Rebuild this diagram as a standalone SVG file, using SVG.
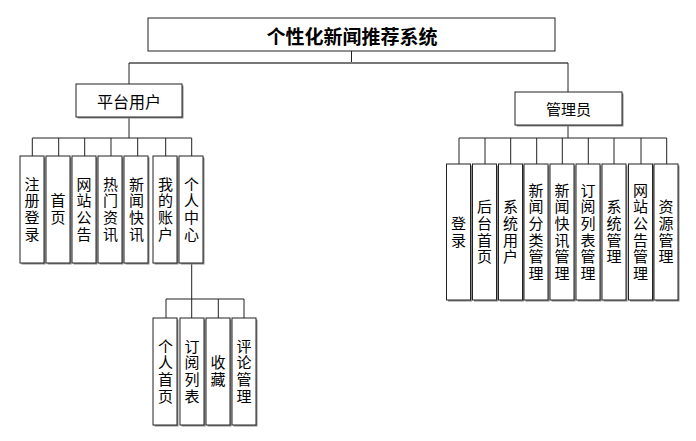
<svg xmlns="http://www.w3.org/2000/svg" width="696" height="441" viewBox="0 0 696 441">
<style>
  .sh{fill:#8a8a8a;stroke:none}
  .box{fill:#fff;stroke:#222;stroke-width:1}
  .t{font-family:"Noto Sans CJK SC","Noto Sans",sans-serif;font-size:15px;fill:#000;text-anchor:middle;dominant-baseline:central}
  .v{font-family:"Noto Sans CJK SC","Noto Sans",sans-serif;font-size:15px;fill:#000;text-anchor:middle;writing-mode:vertical-rl;letter-spacing:1.7px}
  .title{font-size:19px;font-weight:bold}
  .ln{stroke:#222;stroke-width:1;fill:none}
  .lg{stroke:#777;stroke-width:2;fill:none}
</style>
<rect width="696" height="441" fill="#fff"/>
<g id="connectors">
  <path class="ln" d="M351.5 51V63"/>
  <path class="lg" d="M129 63H568"/>
  <path class="ln" d="M129 63V84M568 63V92"/>
  <path class="ln" d="M129 117V138M32.3 138H191.7M32.3 138V156M58.7 138V156M84.7 138V156M111 138V156M137.7 138V156M165.7 138V156M191.7 138V156"/>
  <path class="ln" d="M191.7 263V299M166 299H244M166 299V318M191.7 299V318M218.3 299V318M244 299V318"/>
  <path class="ln" d="M568 125V138M459 138H666.7M459 138V164M485 138V164M510.7 138V164M536.7 138V164M562.3 138V164M588.3 138V164M614 138V164M641 138V164M666.7 138V164"/>
</g>
<g id="title">
  <rect class="box" x="148" y="18" width="407" height="33"/>
  <text class="t title" x="352" y="35">个性化新闻推荐系统</text>
</g>
<g id="platform">
  <rect class="sh" x="77.5" y="85.5" width="106" height="33"/>
  <rect class="box" x="76" y="84" width="106" height="33"/>
  <text class="t" x="129" y="101" style="font-size:16px">平台用户</text>
</g>
<g id="admin">
  <rect class="sh" x="516.5" y="93.5" width="107" height="33"/>
  <rect class="box" x="515" y="92" width="107" height="33"/>
  <text class="t" x="568.5" y="108.5">管理员</text>
</g>
<g id="p1"><rect class="sh" x="21.5" y="157.5" width="24" height="107"/><rect class="box" x="20" y="156" width="24" height="107"/><text class="v" x="32" y="210">注册登录</text></g>
<g id="p2"><rect class="sh" x="47.5" y="157.5" width="24" height="107"/><rect class="box" x="46" y="156" width="24" height="107"/><text class="v" x="58" y="210">首页</text></g>
<g id="p3"><rect class="sh" x="73.5" y="157.5" width="24" height="107"/><rect class="box" x="72" y="156" width="24" height="107"/><text class="v" x="84" y="210">网站公告</text></g>
<g id="p4"><rect class="sh" x="99.5" y="157.5" width="24" height="107"/><rect class="box" x="98" y="156" width="24" height="107"/><text class="v" x="110.5" y="210">热门资讯</text></g>
<g id="p5"><rect class="sh" x="125.5" y="157.5" width="24" height="107"/><rect class="box" x="124" y="156" width="24" height="107"/><text class="v" x="136.5" y="210">新闻快讯</text></g>
<g id="p6"><rect class="sh" x="154.5" y="157.5" width="24" height="107"/><rect class="box" x="153" y="156" width="24" height="107"/><text class="v" x="165.5" y="210">我的账户</text></g>
<g id="p7"><rect class="sh" x="180.5" y="157.5" width="24" height="107"/><rect class="box" x="179" y="156" width="24" height="107"/><text class="v" x="191.5" y="210">个人中心</text></g>
<g id="c1"><rect class="sh" x="154.5" y="319.5" width="24" height="107"/><rect class="box" x="153" y="318" width="24" height="107"/><text class="v" x="165.5" y="372">个人首页</text></g>
<g id="c2"><rect class="sh" x="181.5" y="319.5" width="24" height="107"/><rect class="box" x="180" y="318" width="24" height="107"/><text class="v" x="192" y="372">订阅列表</text></g>
<g id="c3"><rect class="sh" x="207.5" y="319.5" width="24" height="107"/><rect class="box" x="206" y="318" width="24" height="107"/><text class="v" x="218" y="372">收藏</text></g>
<g id="c4"><rect class="sh" x="233.5" y="319.5" width="24" height="107"/><rect class="box" x="232" y="318" width="24" height="107"/><text class="v" x="244" y="372">评论管理</text></g>
<g id="a1"><rect class="sh" x="448" y="165.5" width="24" height="136"/><rect class="box" x="446.5" y="164" width="24" height="136"/><text class="v" x="458.5" y="232.5">登录</text></g>
<g id="a2"><rect class="sh" x="474" y="165.5" width="24" height="136"/><rect class="box" x="472.5" y="164" width="24" height="136"/><text class="v" x="484.5" y="232.5">后台首页</text></g>
<g id="a3"><rect class="sh" x="500" y="165.5" width="24" height="136"/><rect class="box" x="498.5" y="164" width="24" height="136"/><text class="v" x="510.5" y="232.5">系统用户</text></g>
<g id="a4"><rect class="sh" x="525.5" y="165.5" width="24" height="136"/><rect class="box" x="524" y="164" width="24" height="136"/><text class="v" x="536" y="232.5">新闻分类管理</text></g>
<g id="a5"><rect class="sh" x="551.5" y="165.5" width="24" height="136"/><rect class="box" x="550" y="164" width="24" height="136"/><text class="v" x="562" y="232.5">新闻快讯管理</text></g>
<g id="a6"><rect class="sh" x="577.5" y="165.5" width="24" height="136"/><rect class="box" x="576" y="164" width="24" height="136"/><text class="v" x="588" y="232.5">订阅列表管理</text></g>
<g id="a7"><rect class="sh" x="603.5" y="165.5" width="24" height="136"/><rect class="box" x="602" y="164" width="24" height="136"/><text class="v" x="614" y="232.5">系统管理</text></g>
<g id="a8"><rect class="sh" x="630" y="165.5" width="24" height="136"/><rect class="box" x="628.5" y="164" width="24" height="136"/><text class="v" x="640.5" y="232.5">网站公告管理</text></g>
<g id="a9"><rect class="sh" x="655.5" y="165.5" width="24" height="136"/><rect class="box" x="654" y="164" width="24" height="136"/><text class="v" x="666" y="232.5">资源管理</text></g>
</svg>
